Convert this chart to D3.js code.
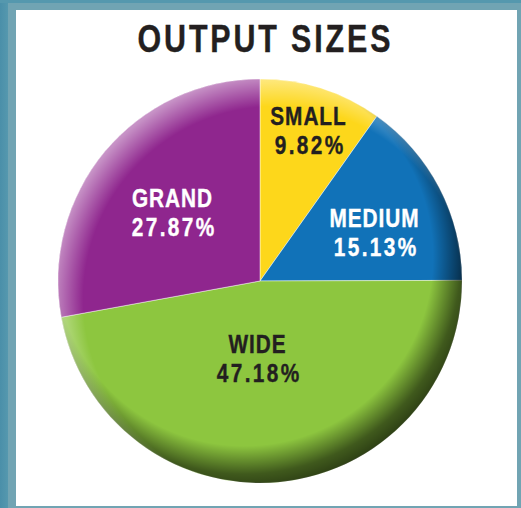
<!DOCTYPE html>
<html><head><meta charset="utf-8">
<script src="https://cdn.jsdelivr.net/npm/d3@7"></script>
<style>
html,body{margin:0;padding:0;background:#fff;}
svg{display:block;}
.lbl{font-family:"Liberation Sans",Arial,Helvetica,sans-serif;font-weight:bold;}
</style></head>
<body>
<svg id="chart" width="521" height="508"></svg>
<script>
const title = "OUTPUT SIZES";
const categories = ["SMALL", "MEDIUM", "WIDE", "GRAND"];
const values = [9.82, 15.13, 47.18, 27.87];
const colors = ["#fdd71b", "#1172b8", "#8dc63f", "#8f268e"];
const textColors = ["#231f20", "#ffffff", "#231f20", "#ffffff"];

const W = 521, H = 508;
const SX = 0.8; // horizontal condensing of the bold face
const svg = d3.select("#chart");
const defs = svg.append("defs");

// frame
const lg = defs.append("linearGradient").attr("id","leftEdge").attr("x1",0).attr("x2",1).attr("y1",0).attr("y2",0);
lg.append("stop").attr("offset",0).attr("stop-color","#4a8fa9");
lg.append("stop").attr("offset",1).attr("stop-color","#5598ae");
svg.append("rect").attr("width",W).attr("height",H).attr("fill","#71a4b3");
svg.append("rect").attr("width",8).attr("height",H).attr("fill","url(#leftEdge)");
svg.append("rect").attr("width",W).attr("height",3).attr("fill","#5598ae");
svg.append("rect").attr("x",16).attr("y",10).attr("width",501).attr("height",496).attr("fill","#ffffff");

// condensed text helper
function ctext(parent, x, y, str, size, spacing, fill){
  const t = parent.append("g").attr("transform",`translate(${x},${y}) scale(${SX},1)`)
    .append("text").attr("class","lbl").attr("text-anchor","middle")
    .attr("x", spacing/2)
    .attr("font-size",size).attr("letter-spacing",spacing+"px").attr("fill",fill)
    .attr("stroke",fill).attr("stroke-width",0.4).text(str);
  return t;
}

// title
ctext(svg, 264, 52, title, 38, 3.6, "#231f20");

const cx = 260, cy = 281, R = 202;
const pie = d3.pie().sort(null).value(d => d.v);
const data = categories.map((c,i)=>({c, v:values[i], color:colors[i], tc:textColors[i]}));
const arcs = pie(data);
const arc = d3.arc().innerRadius(0).outerRadius(R);

const g = svg.append("g").attr("transform",`translate(${cx},${cy})`);
g.selectAll("path.slice").data(arcs).join("path").attr("class","slice")
  .attr("d",arc).attr("fill",d=>d.data.color)
  .attr("stroke","rgba(255,255,255,0.45)").attr("stroke-width",1);

// shading: dark rim bottom-right
const dg = defs.append("radialGradient").attr("id","dark").attr("gradientUnits","userSpaceOnUse")
  .attr("cx",-16).attr("cy",-24).attr("r",236);
dg.append("stop").attr("offset",0.80).attr("stop-color","#000").attr("stop-opacity",0);
dg.append("stop").attr("offset",0.92).attr("stop-color","#000").attr("stop-opacity",0.55);
dg.append("stop").attr("offset",1).attr("stop-color","#000").attr("stop-opacity",0.72);
g.append("circle").attr("r",R).attr("fill","url(#dark)");

// highlight rim top-left
const hg = defs.append("radialGradient").attr("id","light").attr("gradientUnits","userSpaceOnUse")
  .attr("cx",16).attr("cy",18).attr("r",224);
hg.append("stop").attr("offset",0.86).attr("stop-color","#fff").attr("stop-opacity",0);
hg.append("stop").attr("offset",1).attr("stop-color","#fff").attr("stop-opacity",0.5);
g.append("circle").attr("r",R).attr("fill","url(#light)");

// labels
const labelPos = [[48,-156],[114,-54],[-3,72],[-88,-74]];
arcs.forEach((a,i)=>{
  const [lx,ly] = labelPos[i];
  ctext(g, lx, ly, a.data.c, 26, 1.2, a.data.tc);
  ctext(g, lx+1, ly+29, d3.format(".2f")(a.data.v) + "%", 26, 3, a.data.tc);
});
</script>
</body></html>
